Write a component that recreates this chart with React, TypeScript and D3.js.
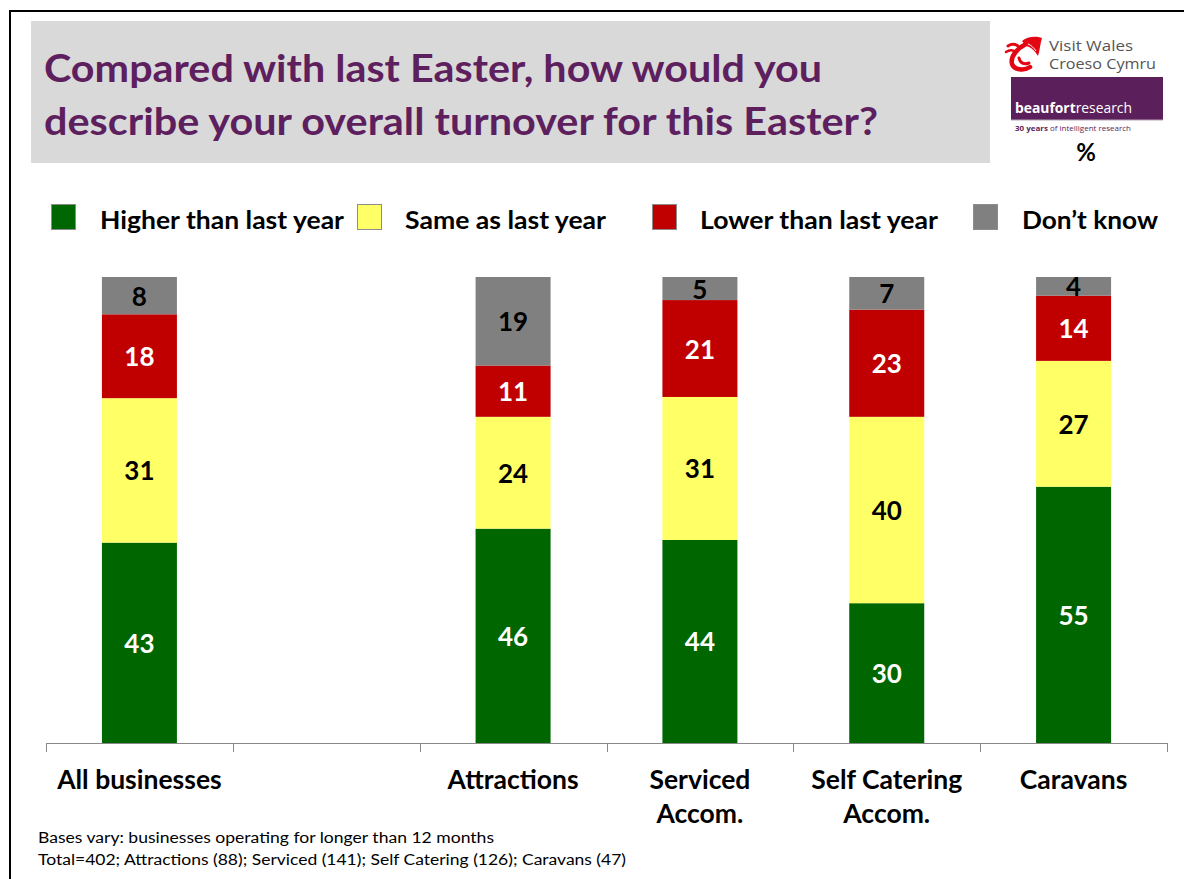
import React from "react";
import * as d3 from "d3";

const categories = ["All businesses", "", "Attractions", "Serviced Accom.", "Self Catering Accom.", "Caravans"];
const categoryLines = [["All businesses"], [], ["Attractions"], ["Serviced", "Accom."], ["Self Catering", "Accom."], ["Caravans"]];
const seriesNames = ["Higher than last year", "Same as last year", "Lower than last year", "Don\u2019t know"];
const higher = [43, null, 46, 44, 30, 55];
const same = [31, null, 24, 31, 40, 27];
const lower = [18, null, 11, 21, 23, 14];
const dontKnow = [8, null, 19, 5, 7, 4];
const seriesColors = ["#006600", "#FFFF66", "#C00000", "#808080"];
const labelColors = ["#FFFFFF", "#000000", "#FFFFFF", "#000000"];
const footnotes = [
  "Bases vary: businesses operating for longer than 12 months",
  "Total=402; Attractions (88); Serviced (141); Self Catering (126); Caravans (47)",
];

const W = 1184;
const H = 879;
const FONT = "Lato, 'Open Sans', sans-serif";

export default function App() {
  const keys = ["h", "s", "l", "d"];
  const rows = categories.map((c, i) => ({
    cat: c || "_blank",
    h: higher[i] ?? 0,
    s: same[i] ?? 0,
    l: lower[i] ?? 0,
    d: dontKnow[i] ?? 0,
    blank: higher[i] == null,
  }));
  const stacked = d3.stack<any>().keys(keys).offset(d3.stackOffsetExpand)(rows);
  const x = d3.scaleBand<string>().domain(rows.map(r => r.cat)).range([46, 1167]).paddingInner(0).paddingOuter(0);
  const y = d3.scaleLinear().domain([0, 1]).range([743, 277]);
  const barW = 75;
  const vals = [higher, same, lower, dontKnow];

  const legendX = [51, 357, 652, 973];
  const legendTextX = [100, 405, 700, 1022];
  const legendW = [244, 201, 238, 136];
  const footW = [456, 588];

  return (
    <svg width={W} height={H} style={{ position: "absolute", left: 0, top: 0, background: "#fff" }} fontFamily={FONT}>
      <rect x={0} y={0} width={W} height={H} fill="#fff" />
      <rect x={10} y={11} width={1300} height={1000} fill="none" stroke="#000" strokeWidth={2} />
      {/* Title box */}
      <rect x={31} y={21} width={959} height={142} fill="#D9D9D9" />
      <text x={44} y={82} fontSize={38} fontWeight={700} fill="#5E1F5E" textLength={778} lengthAdjust="spacingAndGlyphs">
        Compared with last Easter, how would you
      </text>
      <text x={44} y={135} fontSize={38} fontWeight={700} fill="#5E1F5E" textLength={834} lengthAdjust="spacingAndGlyphs">
        describe your overall turnover for this Easter?
      </text>
      {/* Logos */}
      <g>
        <g fill="none" stroke="#E30613" strokeLinecap="round">
          <path d="M1026,44 C1018,48 1010,56 1012,64 C1014,70 1024,71 1030,67" strokeWidth={4.5} />
          <path d="M1019,58 C1020,63 1024,65 1029,63" strokeWidth={3} />
          <path d="M1008,46 C1011,44 1015,44 1018,46" strokeWidth={3} />
          <path d="M1006,52 C1009,50 1012,50 1014,51" strokeWidth={2.5} />
        </g>
        <path d="M1022,41 C1028,36 1036,36 1042,38 C1040,44 1040,50 1038,56 C1035,51 1031,47 1026,46 Z" fill="#E30613" />
        <path d="M1028,44 C1031,45 1034,48 1036,51" fill="none" stroke="#fff" strokeWidth={1} />
        <text x={1049} y={51} fontSize={14.5} fill="#555" fontFamily="'Open Sans', sans-serif" textLength={84} lengthAdjust="spacingAndGlyphs">Visit Wales</text>
        <text x={1049} y={69} fontSize={14.5} fill="#555" fontFamily="'Open Sans', sans-serif" textLength={107} lengthAdjust="spacingAndGlyphs">Croeso Cymru</text>
        <rect x={1011} y={77} width={152} height={43} fill="#5B1F5B" />
        <line x1={1011} y1={120} x2={1163} y2={120} stroke="#B8A4B8" strokeWidth={1} />
        <text x={1015} y={113} fontSize={15} fill="#fff" fontFamily="'Open Sans', sans-serif" textLength={117} lengthAdjust="spacingAndGlyphs">
          <tspan fontWeight={700}>beaufort</tspan>research
        </text>
        <text x={1015} y={131} fontSize={7} fill="#5B1F5B" fontFamily="'Open Sans', sans-serif" textLength={116} lengthAdjust="spacingAndGlyphs">
          <tspan fontWeight={700}>30 years</tspan> of intelligent research
        </text>
        <text x={1086} y={161} fontSize={24} fontWeight={700} fill="#000" textAnchor="middle">%</text>
      </g>
      {/* Legend */}
      {seriesNames.map((n, i) => (
        <g key={n}>
          <rect x={legendX[i] + 0.5} y={204.5} width={24} height={25} fill={seriesColors[i]} stroke="#8c8c8c" strokeWidth={1} />
          <text x={legendTextX[i]} y={229} fontSize={24} fontWeight={700} fill="#000" textLength={legendW[i]} lengthAdjust="spacingAndGlyphs">{n}</text>
        </g>
      ))}
      {/* Bars */}
      {stacked.map((layer, si) => (
        <g key={layer.key}>
          {layer.map((d, ci) => {
            if (rows[ci].blank) return null;
            const cx = (x(rows[ci].cat) as number) + x.bandwidth() / 2;
            const y0 = y(d[0]);
            const y1 = y(d[1]);
            return (
              <g key={ci}>
                <rect x={cx - barW / 2} y={y1} width={barW} height={y0 - y1} fill={seriesColors[si]} />
                <text x={cx} y={(y0 + y1) / 2 + 10} textAnchor="middle" fontSize={26} fontWeight={700} fill={labelColors[si]}>
                  {vals[si][ci]}
                </text>
              </g>
            );
          })}
        </g>
      ))}
      {/* Axis */}
      <line x1={46} y1={743.5} x2={1167} y2={743.5} stroke="#898989" strokeWidth={1} />
      {[...rows.map(r => x(r.cat) as number), 1167].map((tx, i) => (
        <line key={i} x1={Math.round(tx) + 0.5} y1={743} x2={Math.round(tx) + 0.5} y2={752} stroke="#898989" strokeWidth={1} />
      ))}
      {rows.map((r, ci) => {
        const cx = (x(r.cat) as number) + x.bandwidth() / 2;
        return categoryLines[ci].map((ln, li) => (
          <text key={ci + "-" + li} x={cx} y={789 + li * 34} textAnchor="middle" fontSize={26.5} fontWeight={700} fill="#000">
            {ln}
          </text>
        ));
      })}
      {footnotes.map((f, i) => (
        <text key={i} x={38} y={843 + i * 22} fontSize={15.5} fill="#000" textLength={footW[i]} lengthAdjust="spacingAndGlyphs">{f}</text>
      ))}
    </svg>
  );
}
